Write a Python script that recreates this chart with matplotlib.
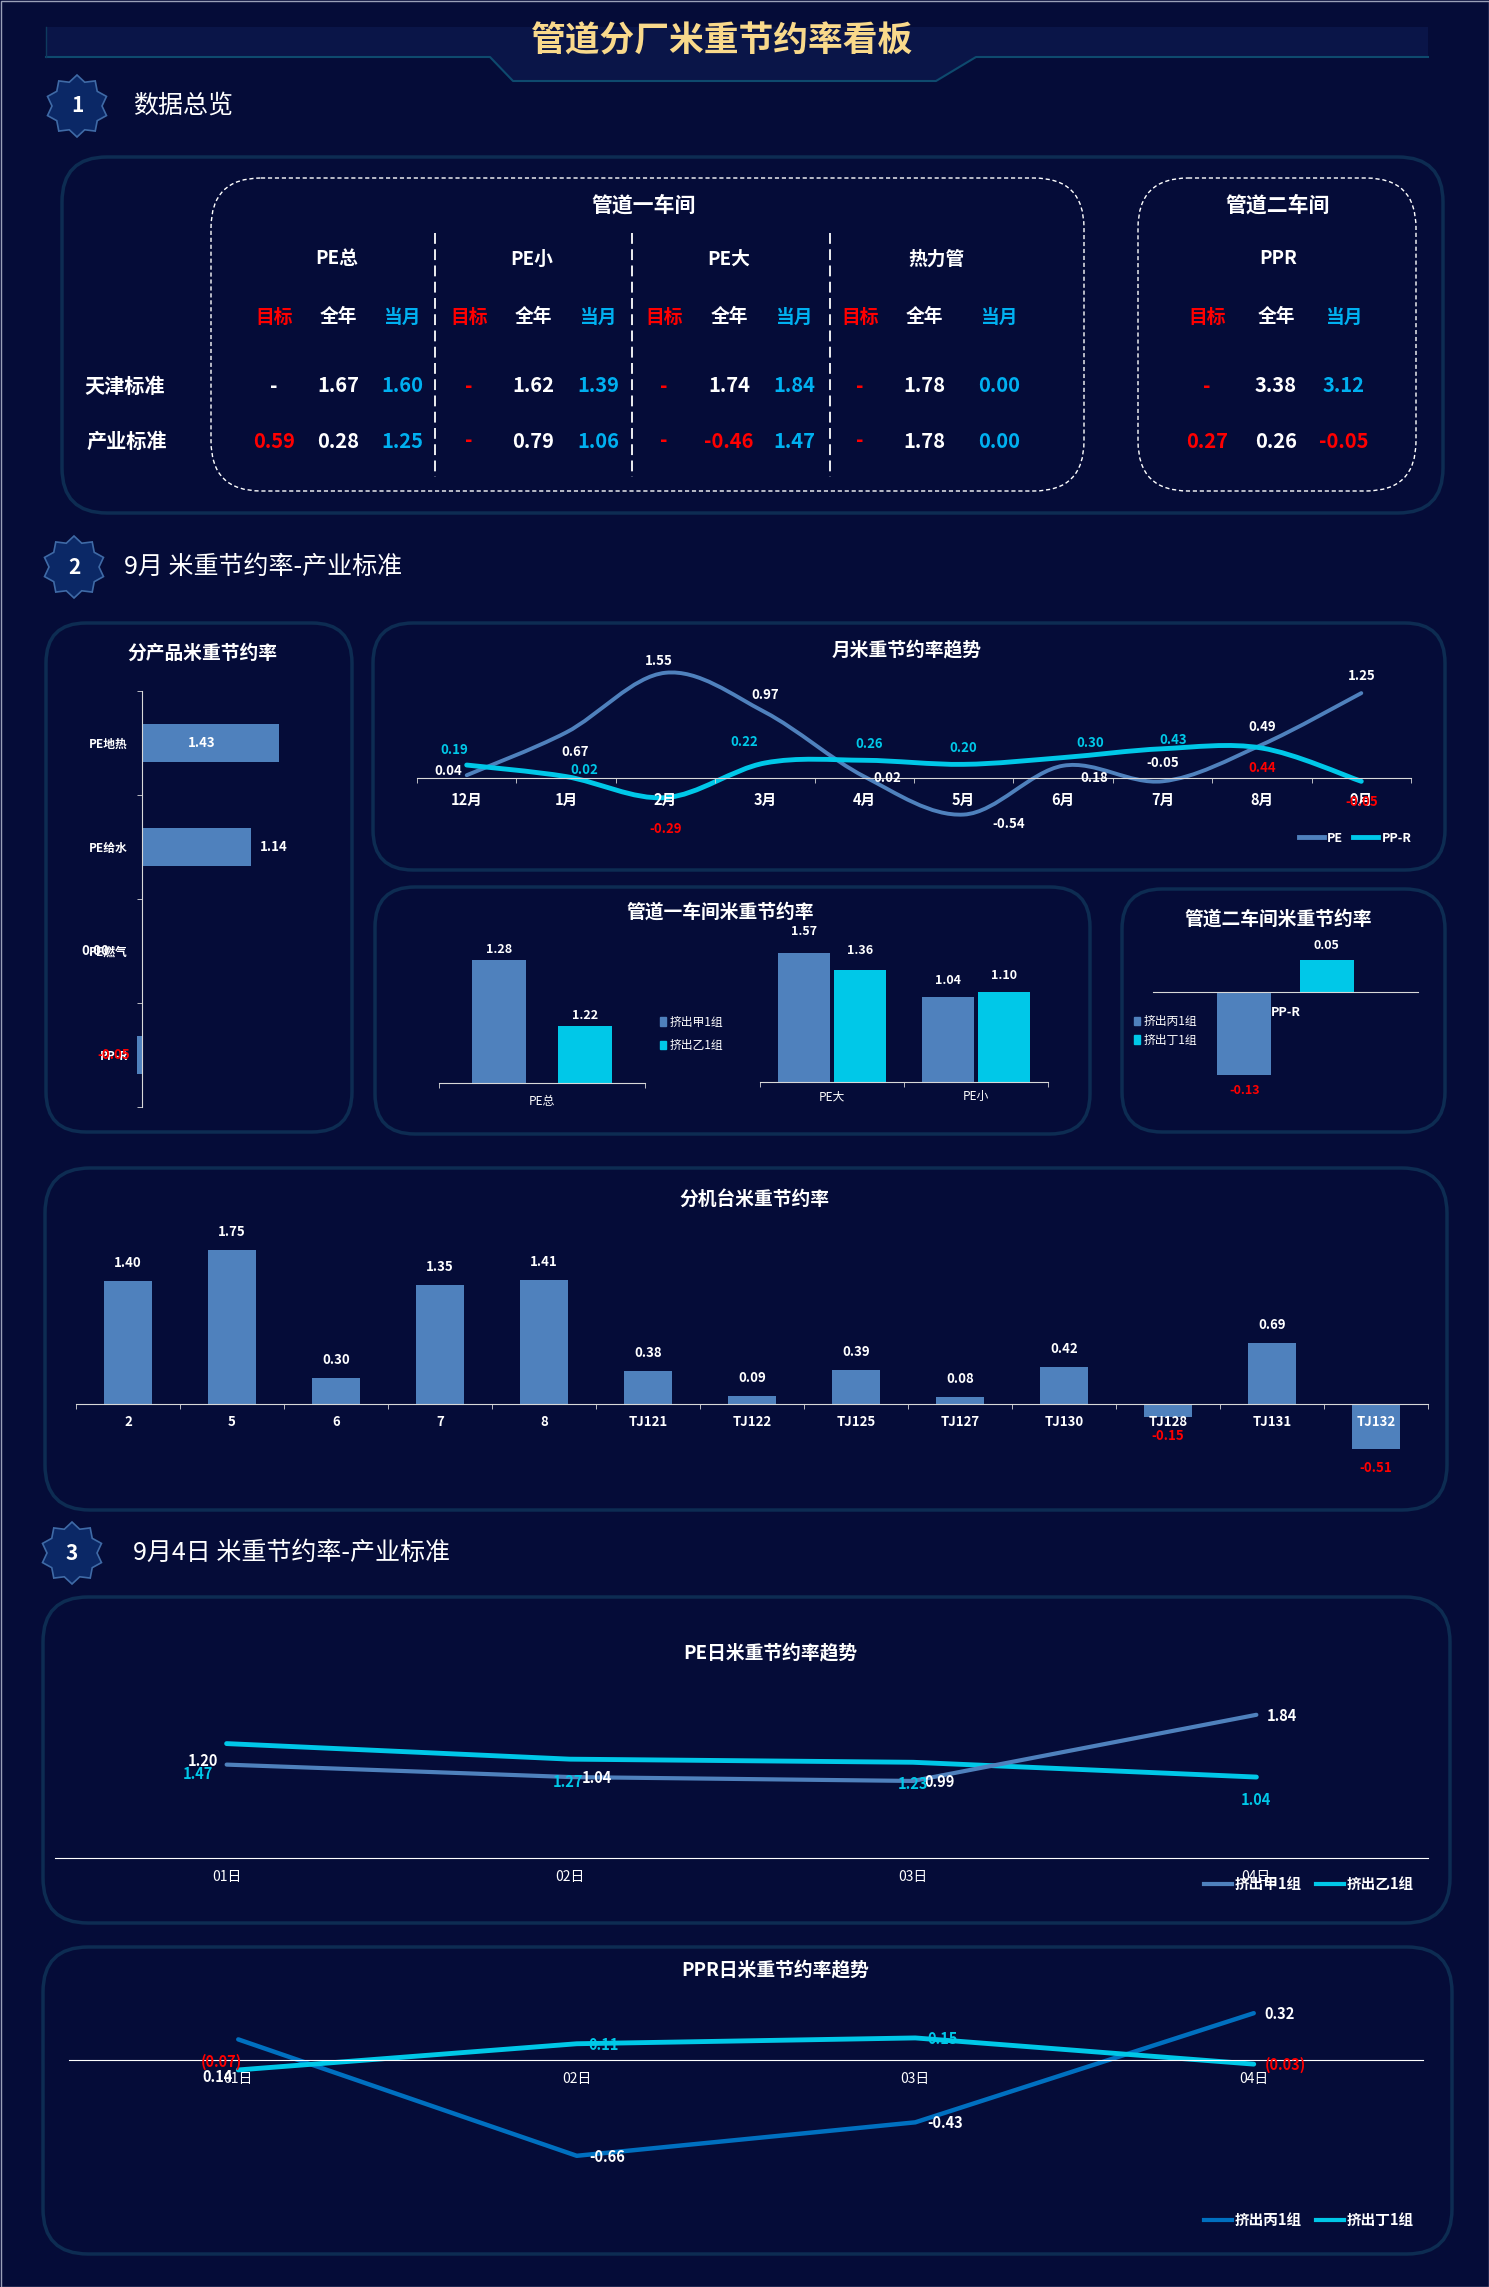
import numpy as np
import matplotlib
matplotlib.use("Agg")
import matplotlib.pyplot as plt
from matplotlib.patches import FancyBboxPatch, Polygon, Rectangle, PathPatch, Patch
from matplotlib.path import Path
from matplotlib.lines import Line2D

plt.rcParams['font.family'] = ['Noto Sans CJK SC', 'DejaVu Sans']
plt.rcParams['axes.unicode_minus'] = False

# ---------------- data ----------------
# section 1: overview table
ws1_groups = ["PE总", "PE小", "PE大", "热力管"]
ws2_groups = ["PPR"]
sub_cols = ["目标", "全年", "当月"]
row_names = ["天津标准", "产业标准"]
tianjin_vals = ["-", "1.67", "1.60", "-", "1.62", "1.39", "-", "1.74", "1.84", "-", "1.78", "0.00", "-", "3.38", "3.12"]
industry_vals = ["0.59", "0.28", "1.25", "-", "0.79", "1.06", "-", "-0.46", "1.47", "-", "1.78", "0.00", "0.27", "0.26", "-0.05"]

# section 2
products = ["PE地热", "PE给水", "PE燃气", "PP-R"]
product_rates = [1.43, 1.14, 0.00, -0.05]

months = ["12月", "1月", "2月", "3月", "4月", "5月", "6月", "7月", "8月", "9月"]
pe_month = [0.04, 0.67, 1.55, 0.97, 0.02, -0.54, 0.18, -0.05, 0.49, 1.25]
ppr_month = [0.19, 0.02, -0.29, 0.22, 0.26, 0.20, 0.30, 0.43, 0.44, -0.05]

ws1_total_cats = ["PE总"]
ws1_total_jia = [1.28]
ws1_total_yi = [1.22]
ws1_cats = ["PE大", "PE小"]
ws1_jia = [1.57, 1.04]
ws1_yi = [1.36, 1.10]

ws2_cats = ["PP-R"]
ws2_bing = [-0.13]
ws2_ding = [0.05]

machines = ["2", "5", "6", "7", "8", "TJ121", "TJ122", "TJ125", "TJ127", "TJ130", "TJ128", "TJ131", "TJ132"]
machine_rates = [1.40, 1.75, 0.30, 1.35, 1.41, 0.38, 0.09, 0.39, 0.08, 0.42, -0.15, 0.69, -0.51]

# section 3
days = ["01日", "02日", "03日", "04日"]
pe_jia_day = [1.20, 1.04, 0.99, 1.84]
pe_yi_day = [1.47, 1.27, 1.23, 1.04]
ppr_bing_day = [0.14, -0.66, -0.43, 0.32]
ppr_ding_day = [-0.07, 0.11, 0.15, -0.03]

# ---------------- style ----------------
W, H = 1489, 2287
BG = '#050c38'
EDGE = '#0d2c52'
BLUE = '#4f81bd'
CYAN = '#00c8e8'
DEEP = '#0070c0'
RED = '#ff0000'
TBLUE = '#00b0f0'
GOLD = '#f9d98b'
AXC = '#d9d9d9'

fig = plt.figure(figsize=(W / 100, H / 100), dpi=100, facecolor=BG)
bg = fig.add_axes([0, 0, 1, 1])
bg.set_xlim(0, W)
bg.set_ylim(H, 0)
bg.axis('off')
bg.set_facecolor(BG)


def px_axes(x0, y0, x1, y1):
    ax = fig.add_axes([x0 / W, 1 - y1 / H, (x1 - x0) / W, (y1 - y0) / H])
    ax.set_facecolor('none')
    for s in ax.spines.values():
        s.set_visible(False)
    return ax


def panel(x0, y0, x1, y1, r=42):
    bg.add_patch(FancyBboxPatch((x0, y0), x1 - x0, y1 - y0,
                                boxstyle=f"round,pad=0,rounding_size={r}",
                                fc='none', ec=EDGE, lw=2.5))


def badge(cx, cy, num):
    ang = np.pi / 2 + np.arange(20) * np.pi / 10
    rad = np.where(np.arange(20) % 2 == 0, 31, 25)
    pts = np.column_stack([cx + rad * np.cos(ang), cy - rad * np.sin(ang)])
    bg.add_patch(Polygon(pts, closed=True, fc='#0b2866', ec='#3f6aa6', lw=1.2))
    bg.text(cx, cy, num, color='white', fontsize=15, fontweight='bold', ha='center', va='center')


def t(x, y, s, color='white', size=14, weight='bold', ha='center'):
    bg.text(x, y, s, color=color, fontsize=size, fontweight=weight, ha=ha, va='center')


# outer frame
bg.add_patch(Rectangle((0.5, 0.5), W - 1, H - 1, fc='none', ec='#9aa0b8', lw=1))

# ---------------- header ----------------
bg.add_patch(Polygon([(46, 27), (1428, 27), (1428, 57), (976, 57), (936, 81), (513, 81), (490, 57), (46, 57)],
                     closed=True, fc='#0a1548', ec='none'))
bg.plot([46, 490, 513, 936, 976, 1428], [57, 57, 81, 81, 57, 57], color='#0e4a6e', lw=1.5)
bg.plot([46, 46], [27, 57], color='#0e3a5e', lw=1)
t(722, 41, "管道分厂米重节约率看板", color=GOLD, size=25)

# ---------------- section 1 ----------------
badge(77, 106, "1")
t(133, 106, "数据总览", size=18, weight='normal', ha='left')
panel(62, 157, 1443, 513, r=45)
for x0, x1 in [(211, 1084), (1138, 1416)]:
    bg.add_patch(FancyBboxPatch((x0, 178), x1 - x0, 313, boxstyle="round,pad=0,rounding_size=50",
                                fc='none', ec='white', lw=1, ls=(0, (3, 2))))
for xs in [435, 632, 830]:
    bg.plot([xs, xs], [233, 477], color='white', lw=1.3, ls=(0, (6, 3)))

t(644, 205, "管道一车间", size=15)
t(1278, 205, "管道二车间", size=15)
group_x = [337, 532, 729, 936, 1278]
for gx, name in zip(group_x, ws1_groups + ws2_groups):
    t(gx, 259, name, size=13.5)
col_x = [274, 338, 402, 469, 533, 598, 664, 729, 794, 860, 924, 999, 1207, 1276, 1344]
sub_colors = [RED, 'white', TBLUE]
for i, cx in enumerate(col_x):
    t(cx, 317, sub_cols[i % 3], color=sub_colors[i % 3], size=13.5)
t(125, 386, row_names[0], size=14.5)
t(127, 441, row_names[1], size=14.5)


def val_color(s, i, first_white=False):
    if i % 3 == 0:
        return 'white' if (first_white and i == 0) else RED
    if s.startswith('-') and s != '-':
        return RED
    return 'white' if i % 3 == 1 else TBLUE


for i, cx in enumerate(col_x):
    t(cx, 386, tianjin_vals[i], color=val_color(tianjin_vals[i], i, True), size=14.5)
    t(cx, 441, industry_vals[i], color=val_color(industry_vals[i], i), size=14.5)

# ---------------- section 2 ----------------
badge(74, 567, "2")
t(124, 567, "9月 米重节约率-产业标准", size=18, weight='normal', ha='left')

panel(46, 623, 352, 1132, r=40)
panel(373, 623, 1445, 870, r=40)
panel(375, 887, 1090, 1134, r=40)
panel(1122, 889, 1445, 1132, r=40)
panel(45, 1168, 1447, 1510, r=45)

t(202, 653, "分产品米重节约率", size=13.5)
t(907, 650, "月米重节约率趋势", size=13.5)
t(720, 912, "管道一车间米重节约率", size=13.5)
t(1278, 919, "管道二车间米重节约率", size=13.5)
t(754, 1199, "分机台米重节约率", size=13.5)

# --- product horizontal bars
axp = px_axes(100, 691, 340, 1107)
yp = np.arange(len(products))
axp.barh(yp, product_rates, height=0.36, color=BLUE)
axp.set_xlim(-0.4375, 2.0625)
axp.set_ylim(len(products) - 0.5, -0.5)
axp.spines['left'].set_visible(True)
axp.spines['left'].set_position(('data', 0))
axp.spines['left'].set_color(AXC)
axp.set_xticks([])
axp.set_yticks(yp)
axp.set_yticklabels(products)
axp.set_yticks(np.arange(-0.5, len(products)), minor=True)
axp.tick_params(axis='y', which='major', length=0, pad=10, labelcolor='white', labelsize=8.5)
axp.tick_params(axis='y', which='minor', length=3.6, color=AXC, direction='out')
for lbl in axp.get_yticklabels():
    lbl.set_fontweight('bold')
prod_off = [-78, 22, -47, -23]
for i, v in enumerate(product_rates):
    axp.annotate(f"{v:.2f}", (v, i), xytext=(prod_off[i], 0), textcoords='offset pixels',
                 ha='center', va='center', color=RED if v < 0 else 'white', fontsize=9.5, fontweight='bold')

# --- monthly smoothed lines
def smooth_path(xs, ys):
    pts = np.column_stack([xs, ys]).astype(float)
    n = len(pts)
    verts = [pts[0]]
    codes = [Path.MOVETO]
    for i in range(n - 1):
        p0 = pts[i - 1] if i > 0 else pts[i]
        p1, p2 = pts[i], pts[i + 1]
        p3 = pts[i + 2] if i + 2 < n else pts[i + 1]
        verts += [p1 + (p2 - p0) / 6, p2 - (p3 - p1) / 6, p2]
        codes += [Path.CURVE4] * 3
    return Path(verts, codes)


axm = px_axes(417, 649, 1411, 839)
xm = np.arange(len(months))
axm.add_patch(PathPatch(smooth_path(xm, pe_month), fc='none', ec=BLUE, lw=2.8, capstyle='round'))
axm.add_patch(PathPatch(smooth_path(xm, ppr_month), fc='none', ec=CYAN, lw=3.5, capstyle='round'))
axm.set_xlim(-0.5, len(months) - 0.5)
axm.set_ylim(-0.9, 1.9)
axm.spines['bottom'].set_visible(True)
axm.spines['bottom'].set_position(('data', 0))
axm.spines['bottom'].set_color(AXC)
axm.set_yticks([])
axm.set_xticks(xm)
axm.set_xticklabels(months)
axm.set_xticks(np.arange(-0.5, len(months)), minor=True)
axm.tick_params(axis='x', which='major', length=0, pad=10, labelcolor='white', labelsize=10.5)
axm.tick_params(axis='x', which='minor', length=3.6, color=AXC, direction='out')
for lbl in axm.get_xticklabels():
    lbl.set_fontweight('bold')
pe_off = [(-18, 4), (9, -20), (-7, 12), (0, 17), (23, -1), (45, -9), (31, -12), (0, 18), (0, 18), (0, 17)]
ppr_off = [(-12, 15), (18, 7), (0, -31), (-21, 21), (5, 16), (0, 16), (27, 15), (11, 9), (0, -20), (0, -21)]
ppr_red = [2, 8, 9]
for i, v in enumerate(pe_month):
    axm.annotate(f"{v:.2f}", (i, v), xytext=pe_off[i], textcoords='offset pixels',
                 ha='center', va='center', color='white', fontsize=9.5, fontweight='bold')
for i, v in enumerate(ppr_month):
    axm.annotate(f"{v:.2f}", (i, v), xytext=ppr_off[i], textcoords='offset pixels',
                 ha='center', va='center', color=RED if i in ppr_red else CYAN, fontsize=9.5, fontweight='bold')
axm.legend([Line2D([], [], color=BLUE, lw=3.5), Line2D([], [], color=CYAN, lw=3.5)], ["PE", "PP-R"],
           loc='center right', bbox_to_anchor=(1412, 838), bbox_transform=bg.transData, ncol=2,
           frameon=False, labelcolor='white', prop={'size': 9, 'weight': 'bold'},
           handlelength=2.0, handletextpad=0.3, columnspacing=0.8, borderaxespad=0, borderpad=0)

# --- workshop 1: PE total
axa = px_axes(439, 938, 645, 1083)
axa.bar([-0.209], ws1_total_jia, width=0.262, color=BLUE)
axa.bar([0.209], ws1_total_yi, width=0.262, color=CYAN)
axa.set_xlim(-0.5, 0.5)
axa.set_ylim(1.168, 1.30)
axa.spines['bottom'].set_visible(True)
axa.spines['bottom'].set_color(AXC)
axa.set_yticks([])
axa.set_xticks([0])
axa.set_xticklabels(ws1_total_cats)
axa.set_xticks([-0.5, 0.5], minor=True)
axa.tick_params(axis='x', which='major', length=0, pad=9, labelcolor='white', labelsize=8.5)
axa.tick_params(axis='x', which='minor', length=3.6, color=AXC, direction='out')
for xv, v in [(-0.209, ws1_total_jia[0]), (0.209, ws1_total_yi[0])]:
    axa.annotate(f"{v:.2f}", (xv, v), xytext=(0, 10), textcoords='offset pixels',
                 ha='center', va='center', color='white', fontsize=9, fontweight='bold')
axa.legend([Patch(color=BLUE), Patch(color=CYAN)], ["挤出甲1组", "挤出乙1组"],
           loc='center left', bbox_to_anchor=(660, 1034), bbox_transform=bg.transData,
           frameon=False, labelcolor='white', prop={'size': 8.5}, handlelength=0.5, handleheight=0.7,
           handletextpad=0.3, labelspacing=0.9, borderaxespad=0, borderpad=0)

# --- workshop 1: PE large / small
axb = px_axes(760, 938, 1048, 1082)
xb = np.arange(len(ws1_cats))
axb.bar(xb - 0.194, ws1_jia, width=0.36, color=BLUE)
axb.bar(xb + 0.194, ws1_yi, width=0.36, color=CYAN)
axb.set_xlim(-0.5, len(ws1_cats) - 0.5)
axb.set_ylim(0, 1.756)
axb.spines['bottom'].set_visible(True)
axb.spines['bottom'].set_color(AXC)
axb.set_yticks([])
axb.set_xticks(xb)
axb.set_xticklabels(ws1_cats)
axb.set_xticks(np.arange(-0.5, len(ws1_cats)), minor=True)
axb.tick_params(axis='x', which='major', length=0, pad=6, labelcolor='white', labelsize=8.5)
axb.tick_params(axis='x', which='minor', length=3.6, color=AXC, direction='out')
jia_off = [22, 16]
yi_off = [20, 16]
for i in range(len(ws1_cats)):
    axb.annotate(f"{ws1_jia[i]:.2f}", (i - 0.194, ws1_jia[i]), xytext=(0, jia_off[i]), textcoords='offset pixels',
                 ha='center', va='center', color='white', fontsize=9, fontweight='bold')
    axb.annotate(f"{ws1_yi[i]:.2f}", (i + 0.194, ws1_yi[i]), xytext=(0, yi_off[i]), textcoords='offset pixels',
                 ha='center', va='center', color='white', fontsize=9, fontweight='bold')

# --- workshop 2
axc = px_axes(1153, 941, 1418, 1100)
axc.bar([-0.155], ws2_bing, width=0.204, color=BLUE)
axc.bar([0.155], ws2_ding, width=0.204, color=CYAN)
axc.set_xlim(-0.5, 0.5)
axc.set_ylim(-0.17, 0.08)
axc.spines['bottom'].set_visible(True)
axc.spines['bottom'].set_position(('data', 0))
axc.spines['bottom'].set_color(AXC)
axc.set_yticks([])
axc.set_xticks([0])
axc.set_xticklabels(ws2_cats)
axc.tick_params(axis='x', length=0, pad=10, labelcolor='white', labelsize=9)
for lbl in axc.get_xticklabels():
    lbl.set_fontweight('bold')
axc.annotate(f"{ws2_ding[0]:.2f}", (0.155, ws2_ding[0]), xytext=(0, 15), textcoords='offset pixels',
             ha='center', va='center', color='white', fontsize=9, fontweight='bold')
axc.annotate(f"{ws2_bing[0]:.2f}", (-0.155, ws2_bing[0]), xytext=(0, -16), textcoords='offset pixels',
             ha='center', va='center', color=RED, fontsize=9, fontweight='bold')
axc.legend([Patch(color=BLUE), Patch(color=CYAN)], ["挤出丙1组", "挤出丁1组"],
           loc='center left', bbox_to_anchor=(1134, 1031), bbox_transform=bg.transData,
           frameon=False, labelcolor='white', prop={'size': 8.5}, handlelength=0.5, handleheight=0.7,
           handletextpad=0.3, labelspacing=0.45, borderaxespad=0, borderpad=0)

# --- machines
axk = px_axes(76, 1232, 1428, 1470)
xk = np.arange(len(machines))
axk.bar(xk, machine_rates, width=0.456, color=BLUE)
axk.set_xlim(-0.5, len(machines) - 0.5)
axk.set_ylim(-0.75, 1.955)
axk.spines['bottom'].set_visible(True)
axk.spines['bottom'].set_position(('data', 0))
axk.spines['bottom'].set_color(AXC)
axk.set_yticks([])
axk.set_xticks(xk)
axk.set_xticklabels(machines)
axk.set_xticks(np.arange(-0.5, len(machines)), minor=True)
axk.tick_params(axis='x', which='major', length=0, pad=8, labelcolor='white', labelsize=9.5)
axk.tick_params(axis='x', which='minor', length=3.6, color=AXC, direction='out')
for lbl in axk.get_xticklabels():
    lbl.set_fontweight('bold')
for i, v in enumerate(machine_rates):
    axk.annotate(f"{v:.2f}", (i, v), xytext=(0, 18 if v >= 0 else -19), textcoords='offset pixels',
                 ha='center', va='center', color=RED if v < 0 else 'white', fontsize=9.5, fontweight='bold')

# ---------------- section 3 ----------------
badge(72, 1553, "3")
t(133, 1553, "9月4日 米重节约率-产业标准", size=18, weight='normal', ha='left')
panel(43, 1597, 1450, 1923, r=45)
panel(43, 1947, 1452, 2254, r=45)
t(770, 1653, "PE日米重节约率趋势", size=13.5)
t(775, 1970, "PPR日米重节约率趋势", size=13.5)

xd = np.arange(len(days))

axe = px_axes(55, 1679, 1428, 1858)
axe.plot(xd, pe_yi_day, color=CYAN, lw=3.5, solid_capstyle='round')
axe.plot(xd, pe_jia_day, color=BLUE, lw=3, solid_capstyle='round')
axe.set_xlim(-0.5, len(days) - 0.5)
axe.set_ylim(0, 2.3)
axe.spines['bottom'].set_visible(True)
axe.spines['bottom'].set_color('white')
axe.spines['bottom'].set_linewidth(0.8)
axe.set_yticks([])
axe.set_xticks(xd)
axe.set_xticklabels(days)
axe.tick_params(axis='x', length=0, pad=9, labelcolor='white', labelsize=10)
jia_day_off = [(-24, 4), (27, -1), (26, -1), (26, -1)]
yi_day_off = [(-29, -30), (-2, -23), (0, -22), (0, -23)]
for i in range(len(days)):
    axe.annotate(f"{pe_jia_day[i]:.2f}", (i, pe_jia_day[i]), xytext=jia_day_off[i], textcoords='offset pixels',
                 ha='center', va='center', color='white', fontsize=10.5, fontweight='bold')
    axe.annotate(f"{pe_yi_day[i]:.2f}", (i, pe_yi_day[i]), xytext=yi_day_off[i], textcoords='offset pixels',
                 ha='center', va='center', color=CYAN, fontsize=10.5, fontweight='bold')
axe.legend([Line2D([], [], color=BLUE, lw=3), Line2D([], [], color=CYAN, lw=3)], ["挤出甲1组", "挤出乙1组"],
           loc='center right', bbox_to_anchor=(1414, 1884), bbox_transform=bg.transData, ncol=2,
           frameon=False, labelcolor='white', prop={'size': 10.5, 'weight': 'bold'}, handlelength=1.9,
           handletextpad=0.2, columnspacing=1.0, borderaxespad=0, borderpad=0)

axr = px_axes(69, 1987, 1423, 2198)
axr.plot(xd, ppr_bing_day, color=DEEP, lw=3.2, solid_capstyle='round')
axr.plot(xd, ppr_ding_day, color=CYAN, lw=3.5, solid_capstyle='round')
axr.set_xlim(-0.5, len(days) - 0.5)
axr.set_ylim(-0.95, 0.5)
axr.spines['bottom'].set_visible(True)
axr.spines['bottom'].set_position(('data', 0))
axr.spines['bottom'].set_color('white')
axr.spines['bottom'].set_linewidth(0.8)
axr.set_yticks([])
axr.set_xticks(xd)
axr.set_xticklabels(days)
axr.tick_params(axis='x', length=0, pad=9, labelcolor='white', labelsize=10)


def paren(v):
    return f"({abs(v):.2f})" if v < 0 else f"{v:.2f}"


bing_off = [(-21, -38), (30, -1), (30, -1), (26, -1)]
ding_off = [(-17, 8), (27, -1), (27, -1), (32, -1)]
for i in range(len(days)):
    axr.annotate(f"{ppr_bing_day[i]:.2f}", (i, ppr_bing_day[i]), xytext=bing_off[i], textcoords='offset pixels',
                 ha='center', va='center', color='white', fontsize=10.5, fontweight='bold')
    dv = ppr_ding_day[i]
    axr.annotate(paren(dv), (i, dv), xytext=ding_off[i], textcoords='offset pixels',
                 ha='center', va='center', color=RED if dv < 0 else CYAN, fontsize=10.5, fontweight='bold')
axr.legend([Line2D([], [], color=DEEP, lw=3), Line2D([], [], color=CYAN, lw=3)], ["挤出丙1组", "挤出丁1组"],
           loc='center right', bbox_to_anchor=(1414, 2220), bbox_transform=bg.transData, ncol=2,
           frameon=False, labelcolor='white', prop={'size': 10.5, 'weight': 'bold'}, handlelength=1.9,
           handletextpad=0.2, columnspacing=1.0, borderaxespad=0, borderpad=0)

fig.savefig("out.png", dpi=100, facecolor=BG)
